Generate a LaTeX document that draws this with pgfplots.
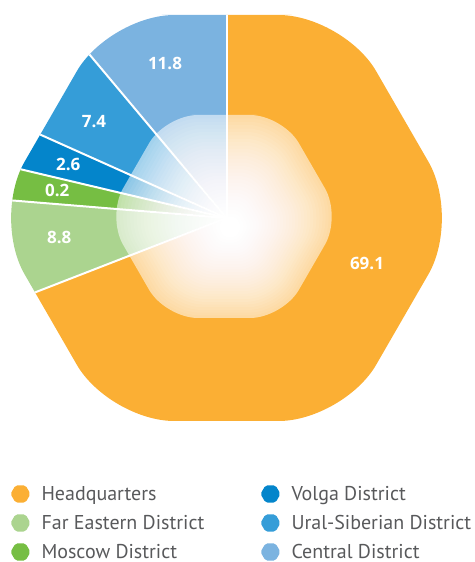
\documentclass[border=0pt]{standalone}
\usepackage{pgfplots}
\usepackage{pgfplotstable}
\pgfplotsset{compat=1.18}
\usepackage{fontspec}
\setmainfont{PT Sans}
\newfontfamily\labfont{Open Sans}
\definecolor{hq}{HTML}{FBAF34}
\definecolor{fe}{HTML}{ABD48F}
\definecolor{mo}{HTML}{76BE43}
\definecolor{vo}{HTML}{0485CB}
\definecolor{us}{HTML}{359DD8}
\definecolor{ce}{HTML}{7BB3E0}
\definecolor{legtext}{HTML}{58595B}
% value = printed share, share = drawn share (percent of the full turn), lx/ly = label position
\pgfplotstableread{
name value share lx ly
HQ 69.1 69.1 140.5 -45
FE 8.8 7.2 -167.2 -19.7
MO 0.2 2.4 -169.2 28
VO 2.6 3.0 -158.2 54
US 7.4 7.2 -132.5 96.3
CE 11.8 11.1 -61.5 154.7
}\piedata
\pgfplotsset{hexlegend/.style={legend image code/.code={\fill[##1,draw=none,rounded corners=2pt] (-10pt,0pt) -- (-5pt,8.66pt) -- (5pt,8.66pt) -- (10pt,0pt) -- (5pt,-8.66pt) -- (-5pt,-8.66pt) -- cycle;}}}
\newcommand\hexpath[3]{({#2},{#3+203*(#1)}) -- ({#2+117.2*(#1)},{#3+203*(#1)}) -- ({#2+234.4*(#1)},{#3}) -- ({#2+117.2*(#1)},{#3-203*(#1)}) -- ({#2-117.2*(#1)},{#3-203*(#1)}) -- ({#2-234.4*(#1)},{#3}) -- ({#2-117.2*(#1)},{#3+203*(#1)}) -- cycle}
\newcommand\pieslice[3]{\fill[#3] (axis cs:0,0) -- ++(#1:420pt) arc[start angle=#1,end angle=#2,radius=420pt] -- cycle;}
\begin{document}
\begin{tikzpicture}
\pgfplotstablegetelem{0}{share}\of\piedata \pgfmathsetmacro\sA{\pgfplotsretval}
\pgfplotstablegetelem{1}{share}\of\piedata \pgfmathsetmacro\sB{\pgfplotsretval}
\pgfplotstablegetelem{2}{share}\of\piedata \pgfmathsetmacro\sC{\pgfplotsretval}
\pgfplotstablegetelem{3}{share}\of\piedata \pgfmathsetmacro\sD{\pgfplotsretval}
\pgfplotstablegetelem{4}{share}\of\piedata \pgfmathsetmacro\sE{\pgfplotsretval}
\pgfmathsetmacro\aO{90}
\pgfmathsetmacro\aA{\aO-3.6*\sA}
\pgfmathsetmacro\aB{\aA-3.6*\sB}
\pgfmathsetmacro\aC{\aB-3.6*\sC}
\pgfmathsetmacro\aD{\aC-3.6*\sD}
\pgfmathsetmacro\aE{\aD-3.6*\sE}
\pgfmathsetmacro\aF{-270}
\begin{axis}[x=1pt,y=1pt,xmin=-226.5,xmax=247.5,ymin=-344,ymax=218,
  hide axis, clip=false,
  legend columns=2, legend cell align=left,
  legend style={at={(axis cs:-216,-267.3)}, anchor=north west, draw=none, fill=none,
    inner sep=0pt, outer sep=0pt, row sep=11.7pt,
    font=\fontsize{20}{24}\selectfont, text=legtext,
    nodes={inner sep=0pt, text height=14pt, text depth=0pt},
    /tikz/every odd column/.append style={column sep=11pt},
    /tikz/every even column/.append style={column sep=0pt}},
]
\coordinate (BL) at (axis cs:-226.5,-344);
\coordinate (TR) at (axis cs:247.5,218);
\begin{scope}
\clip[rounded corners=65pt] \hexpath{1}{0}{0};
\pieslice{\aO}{\aA}{hq}
\pieslice{\aA}{\aB}{fe}
\pieslice{\aB}{\aC}{mo}
\pieslice{\aC}{\aD}{vo}
\pieslice{\aD}{\aE}{us}
\pieslice{\aE}{\aF}{ce}
\draw[white,line width=2pt] (axis cs:0,0) -- ++(\aO:420pt);
\draw[white,line width=2pt] (axis cs:0,0) -- ++(\aA:420pt);
\draw[white,line width=2pt] (axis cs:0,0) -- ++(\aB:420pt);
\draw[white,line width=2pt] (axis cs:0,0) -- ++(\aC:420pt);
\draw[white,line width=2pt] (axis cs:0,0) -- ++(\aD:420pt);
\draw[white,line width=2pt] (axis cs:0,0) -- ++(\aE:420pt);
\end{scope}
\fill[white, fill opacity=0.55, rounded corners=32.5pt] \hexpath{0.5}{-2.5}{1.5};
\pgfplotsinvokeforeach{1,...,30}{
  \fill[white, fill opacity={1-((30-#1)/(31-#1))^2}, rounded corners={65pt*0.5*(1-#1*0.03)}] \hexpath{0.5*(1-#1*0.03)}{-2.5+0.2*#1}{1.5-0.35*#1};
}
\addlegendimage{hexlegend, fill=hq}
\addlegendentry{\makebox[219pt][l]{Headquarters}}
\addlegendimage{hexlegend, fill=vo}
\addlegendentry{Volga District}
\addlegendimage{hexlegend, fill=fe}
\addlegendentry{\makebox[219pt][l]{Far Eastern District}}
\addlegendimage{hexlegend, fill=us}
\addlegendentry{Ural-Siberian District}
\addlegendimage{hexlegend, fill=mo}
\addlegendentry{\makebox[219pt][l]{Moscow District}}
\addlegendimage{hexlegend, fill=ce}
\addlegendentry{Central District}
\addplot[draw=none, mark=none, forget plot, nodes near coords, point meta=explicit symbolic,
  nodes near coords style={anchor=center, text=white, font=\labfont\bfseries\fontsize{17}{20}\selectfont}]
  table[x=lx, y=ly, meta=value]{\piedata};
\end{axis}
\pgfresetboundingbox
\path[use as bounding box] (BL) rectangle (TR);
\end{tikzpicture}
\end{document}
